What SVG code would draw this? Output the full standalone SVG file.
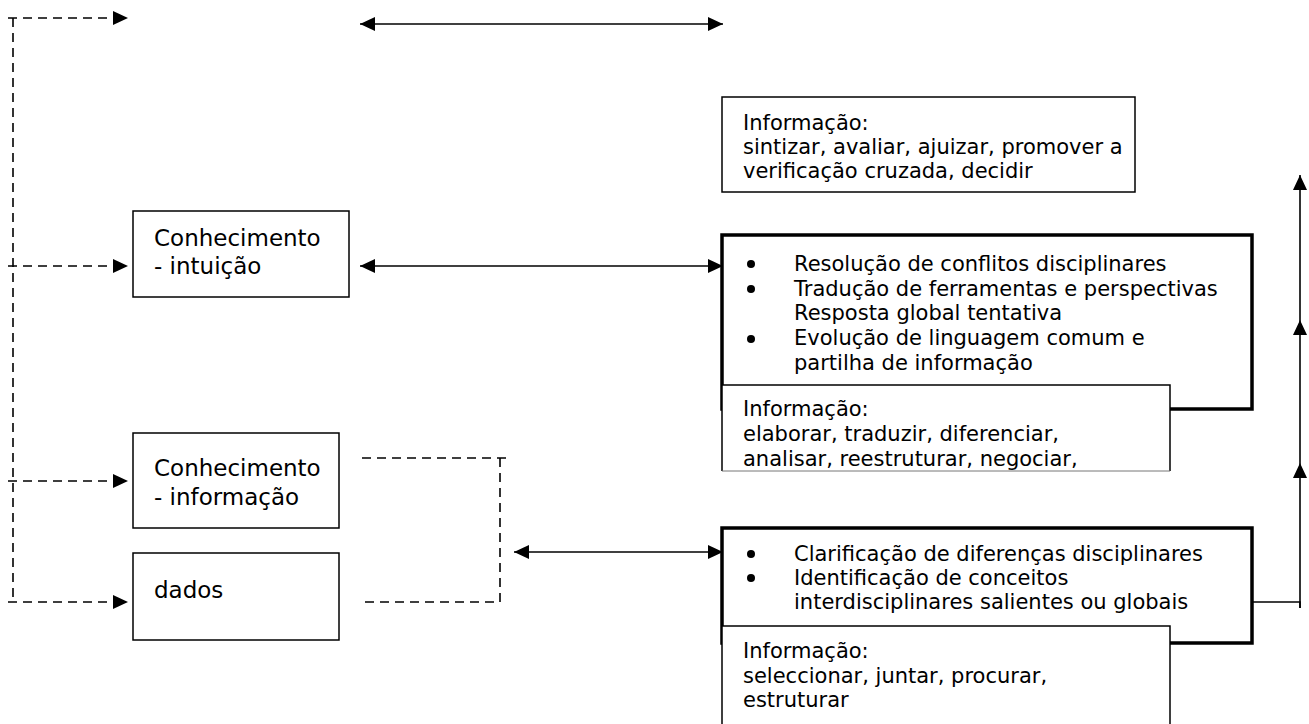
<svg xmlns="http://www.w3.org/2000/svg" width="1309" height="724" viewBox="0 0 1309 724">
<style>
text{font-family:"DejaVu Sans","Liberation Sans",sans-serif;font-size:21px;fill:#000}
text.big{font-size:23px}
.box{fill:#fff;stroke:#000;stroke-width:1.5}
.thick{fill:#fff;stroke:#000;stroke-width:3.5}
.dash{fill:none;stroke:#000;stroke-width:1.6;stroke-dasharray:9 6}
.solid{fill:none;stroke:#000;stroke-width:1.6}
</style>
<defs>
<marker id="ah" viewBox="0 0 15 14" refX="15" refY="7" markerWidth="15" markerHeight="14" markerUnits="userSpaceOnUse" orient="auto-start-reverse">
<path d="M0,0 L15,7 L0,14 Z" fill="#000"/>
</marker>
<clipPath id="clipMid"><rect x="722" y="385" width="448" height="86"/></clipPath>
</defs>
<g id="connectors">
<path class="dash" d="M8,18 H128" marker-end="url(#ah)"/>
<path class="dash" d="M13,18 V598"/>
<path class="dash" d="M8,266 H128" marker-end="url(#ah)"/>
<path class="dash" d="M8,481 H128" marker-end="url(#ah)"/>
<path class="dash" d="M8,602 H128" marker-end="url(#ah)"/>
<path class="solid" d="M360,24 H723" marker-start="url(#ah)" marker-end="url(#ah)"/>
<path class="solid" d="M360,266 H723" marker-start="url(#ah)" marker-end="url(#ah)"/>
<path class="solid" d="M514,552 H723" marker-start="url(#ah)" marker-end="url(#ah)"/>
<path class="dash" d="M362,458 H508"/>
<path class="dash" d="M500,458 V602 H362"/>
<path class="solid" d="M1252,602 H1300 V608"/>
<path class="solid" d="M1300,608 V463" marker-end="url(#ah)"/>
<path class="solid" d="M1300,463 V320" marker-end="url(#ah)"/>
<path class="solid" d="M1300,320 V175" marker-end="url(#ah)"/>
</g>
<g id="info-top">
<rect class="box" x="722" y="97" width="413" height="95"/>
<text x="743" y="130">Informação:</text>
<text x="743" y="154">sintizar, avaliar, ajuizar, promover a</text>
<text x="743" y="178">verificação cruzada, decidir</text>
</g>
<g id="conhecimento-intuicao">
<rect class="box" x="133" y="211" width="216" height="86"/>
<text class="big" x="154" y="246">Conhecimento</text>
<text class="big" x="154" y="274">- intuição</text>
</g>
<g id="integracao">
<rect class="thick" x="722" y="235" width="530" height="174"/>
<circle cx="751" cy="264" r="4"/>
<circle cx="751" cy="289" r="4"/>
<circle cx="751" cy="339" r="4"/>
<text x="794" y="271">Resolução de conflitos disciplinares</text>
<text x="794" y="296">Tradução de ferramentas e perspectivas</text>
<text x="794" y="320">Resposta global tentativa</text>
<text x="794" y="345">Evolução de linguagem comum e</text>
<text x="794" y="370">partilha de informação</text>
</g>
<g id="info-middle">
<rect x="722" y="385" width="448" height="86" fill="#fff"/>
<path class="box" d="M722,471 V385 H1170 V471"/>
<line x1="722" y1="471" x2="1170" y2="471" stroke="#777" stroke-width="1"/>
<g clip-path="url(#clipMid)">
<text x="743" y="416">Informação:</text>
<text x="743" y="441">elaborar, traduzir, diferenciar,</text>
<text x="743" y="466">analisar, reestruturar, negociar,</text>
</g>
</g>
<g id="conhecimento-informacao">
<rect class="box" x="133" y="433" width="206" height="95"/>
<text class="big" x="154" y="476">Conhecimento</text>
<text class="big" x="154" y="505">- informação</text>
</g>
<g id="dados">
<rect class="box" x="133" y="553" width="206" height="87"/>
<text class="big" x="154" y="598">dados</text>
</g>
<g id="disciplinar">
<rect class="thick" x="722" y="528" width="530" height="115"/>
<circle cx="751" cy="554" r="4"/>
<circle cx="751" cy="578" r="4"/>
<text x="794" y="561">Clarificação de diferenças disciplinares</text>
<text x="794" y="585">Identificação de conceitos</text>
<text x="794" y="609">interdisciplinares salientes ou globais</text>
</g>
<g id="info-bottom">
<rect class="box" x="722" y="626" width="448" height="110"/>
<text x="743" y="658">Informação:</text>
<text x="743" y="683">seleccionar, juntar, procurar,</text>
<text x="743" y="707">estruturar</text>
</g>
</svg>
